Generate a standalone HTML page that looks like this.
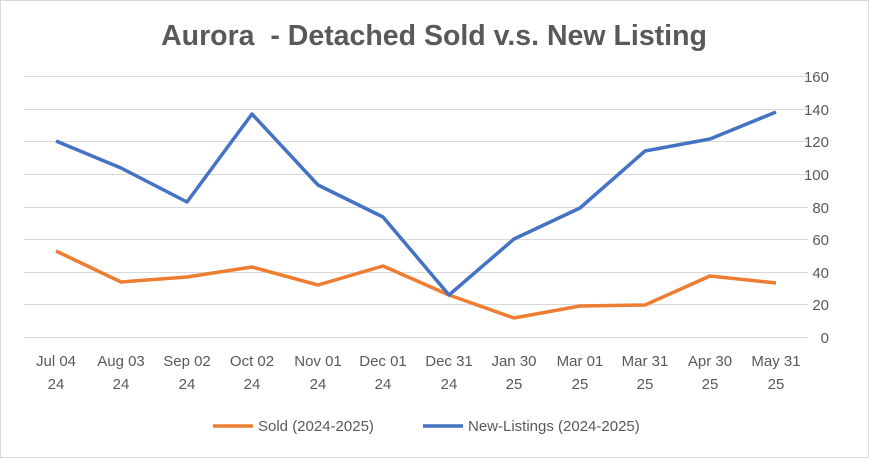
<!DOCTYPE html>
<html><head><meta charset="utf-8"><style>
html,body{margin:0;padding:0;background:#fff;}
svg{display:block;font-family:"Liberation Sans",Arial,sans-serif;}
</style></head><body>
<svg width="869" height="458" viewBox="0 0 869 458">
<rect x="0.5" y="0.5" width="868" height="457" fill="#fff" stroke="#d9d9d9"/>
<text x="434" y="45" text-anchor="middle" font-size="28.5" font-weight="bold" fill="#595959" xml:space="preserve" style="white-space:pre">Aurora  - Detached Sold v.s. New Listing</text>
<g stroke="#d9d9d9" stroke-width="1">
<line x1="24" x2="808" y1="76.5" y2="76.5"/>
<line x1="24" x2="808" y1="109.5" y2="109.5"/>
<line x1="24" x2="808" y1="141.5" y2="141.5"/>
<line x1="24" x2="808" y1="174.5" y2="174.5"/>
<line x1="24" x2="808" y1="207.5" y2="207.5"/>
<line x1="24" x2="808" y1="239.5" y2="239.5"/>
<line x1="24" x2="808" y1="272.5" y2="272.5"/>
<line x1="24" x2="808" y1="304.5" y2="304.5"/>
<line x1="24" x2="808" y1="337.5" y2="337.5"/>
</g>
<g font-size="15" fill="#595959" text-anchor="end">
<text x="829" y="82">160</text><text x="829" y="115">140</text><text x="829" y="147">120</text>
<text x="829" y="180">100</text><text x="829" y="213">80</text><text x="829" y="245">60</text>
<text x="829" y="278">40</text><text x="829" y="310">20</text><text x="829" y="343">0</text>
</g>
<g font-size="15" fill="#595959" text-anchor="middle">
<text x="56" y="366">Jul 04</text><text x="56" y="389">24</text>
<text x="121" y="366">Aug 03</text><text x="121" y="389">24</text>
<text x="187" y="366">Sep 02</text><text x="187" y="389">24</text>
<text x="252" y="366">Oct 02</text><text x="252" y="389">24</text>
<text x="318" y="366">Nov 01</text><text x="318" y="389">24</text>
<text x="383" y="366">Dec 01</text><text x="383" y="389">24</text>
<text x="449" y="366">Dec 31</text><text x="449" y="389">24</text>
<text x="514" y="366">Jan 30</text><text x="514" y="389">25</text>
<text x="580" y="366">Mar 01</text><text x="580" y="389">25</text>
<text x="645" y="366">Mar 31</text><text x="645" y="389">25</text>
<text x="710" y="366">Apr 30</text><text x="710" y="389">25</text>
<text x="776" y="366">May 31</text><text x="776" y="389">25</text>
</g>
<polyline fill="none" stroke="#ed7d31" stroke-width="3.5" stroke-linejoin="round" points="56,251 121,282 187,277 252,267 318,285 383,266 449,295 514,318 580,306 645,305 710,276 776,283"/>
<polyline fill="none" stroke="#4472c4" stroke-width="3.5" stroke-linejoin="round" points="56,141 121,168 187,202 252,114 318,185 383,217 449,295 514,239 580,208 645,151 710,139 776,112"/>
<line x1="213" x2="253" y1="426" y2="426" stroke="#ed7d31" stroke-width="3.5"/>
<text x="258" y="431" font-size="15" fill="#595959">Sold (2024-2025)</text>
<line x1="423" x2="463" y1="426" y2="426" stroke="#4472c4" stroke-width="3.5"/>
<text x="468" y="431" font-size="15" fill="#595959">New-Listings (2024-2025)</text>
</svg>
</body></html>
